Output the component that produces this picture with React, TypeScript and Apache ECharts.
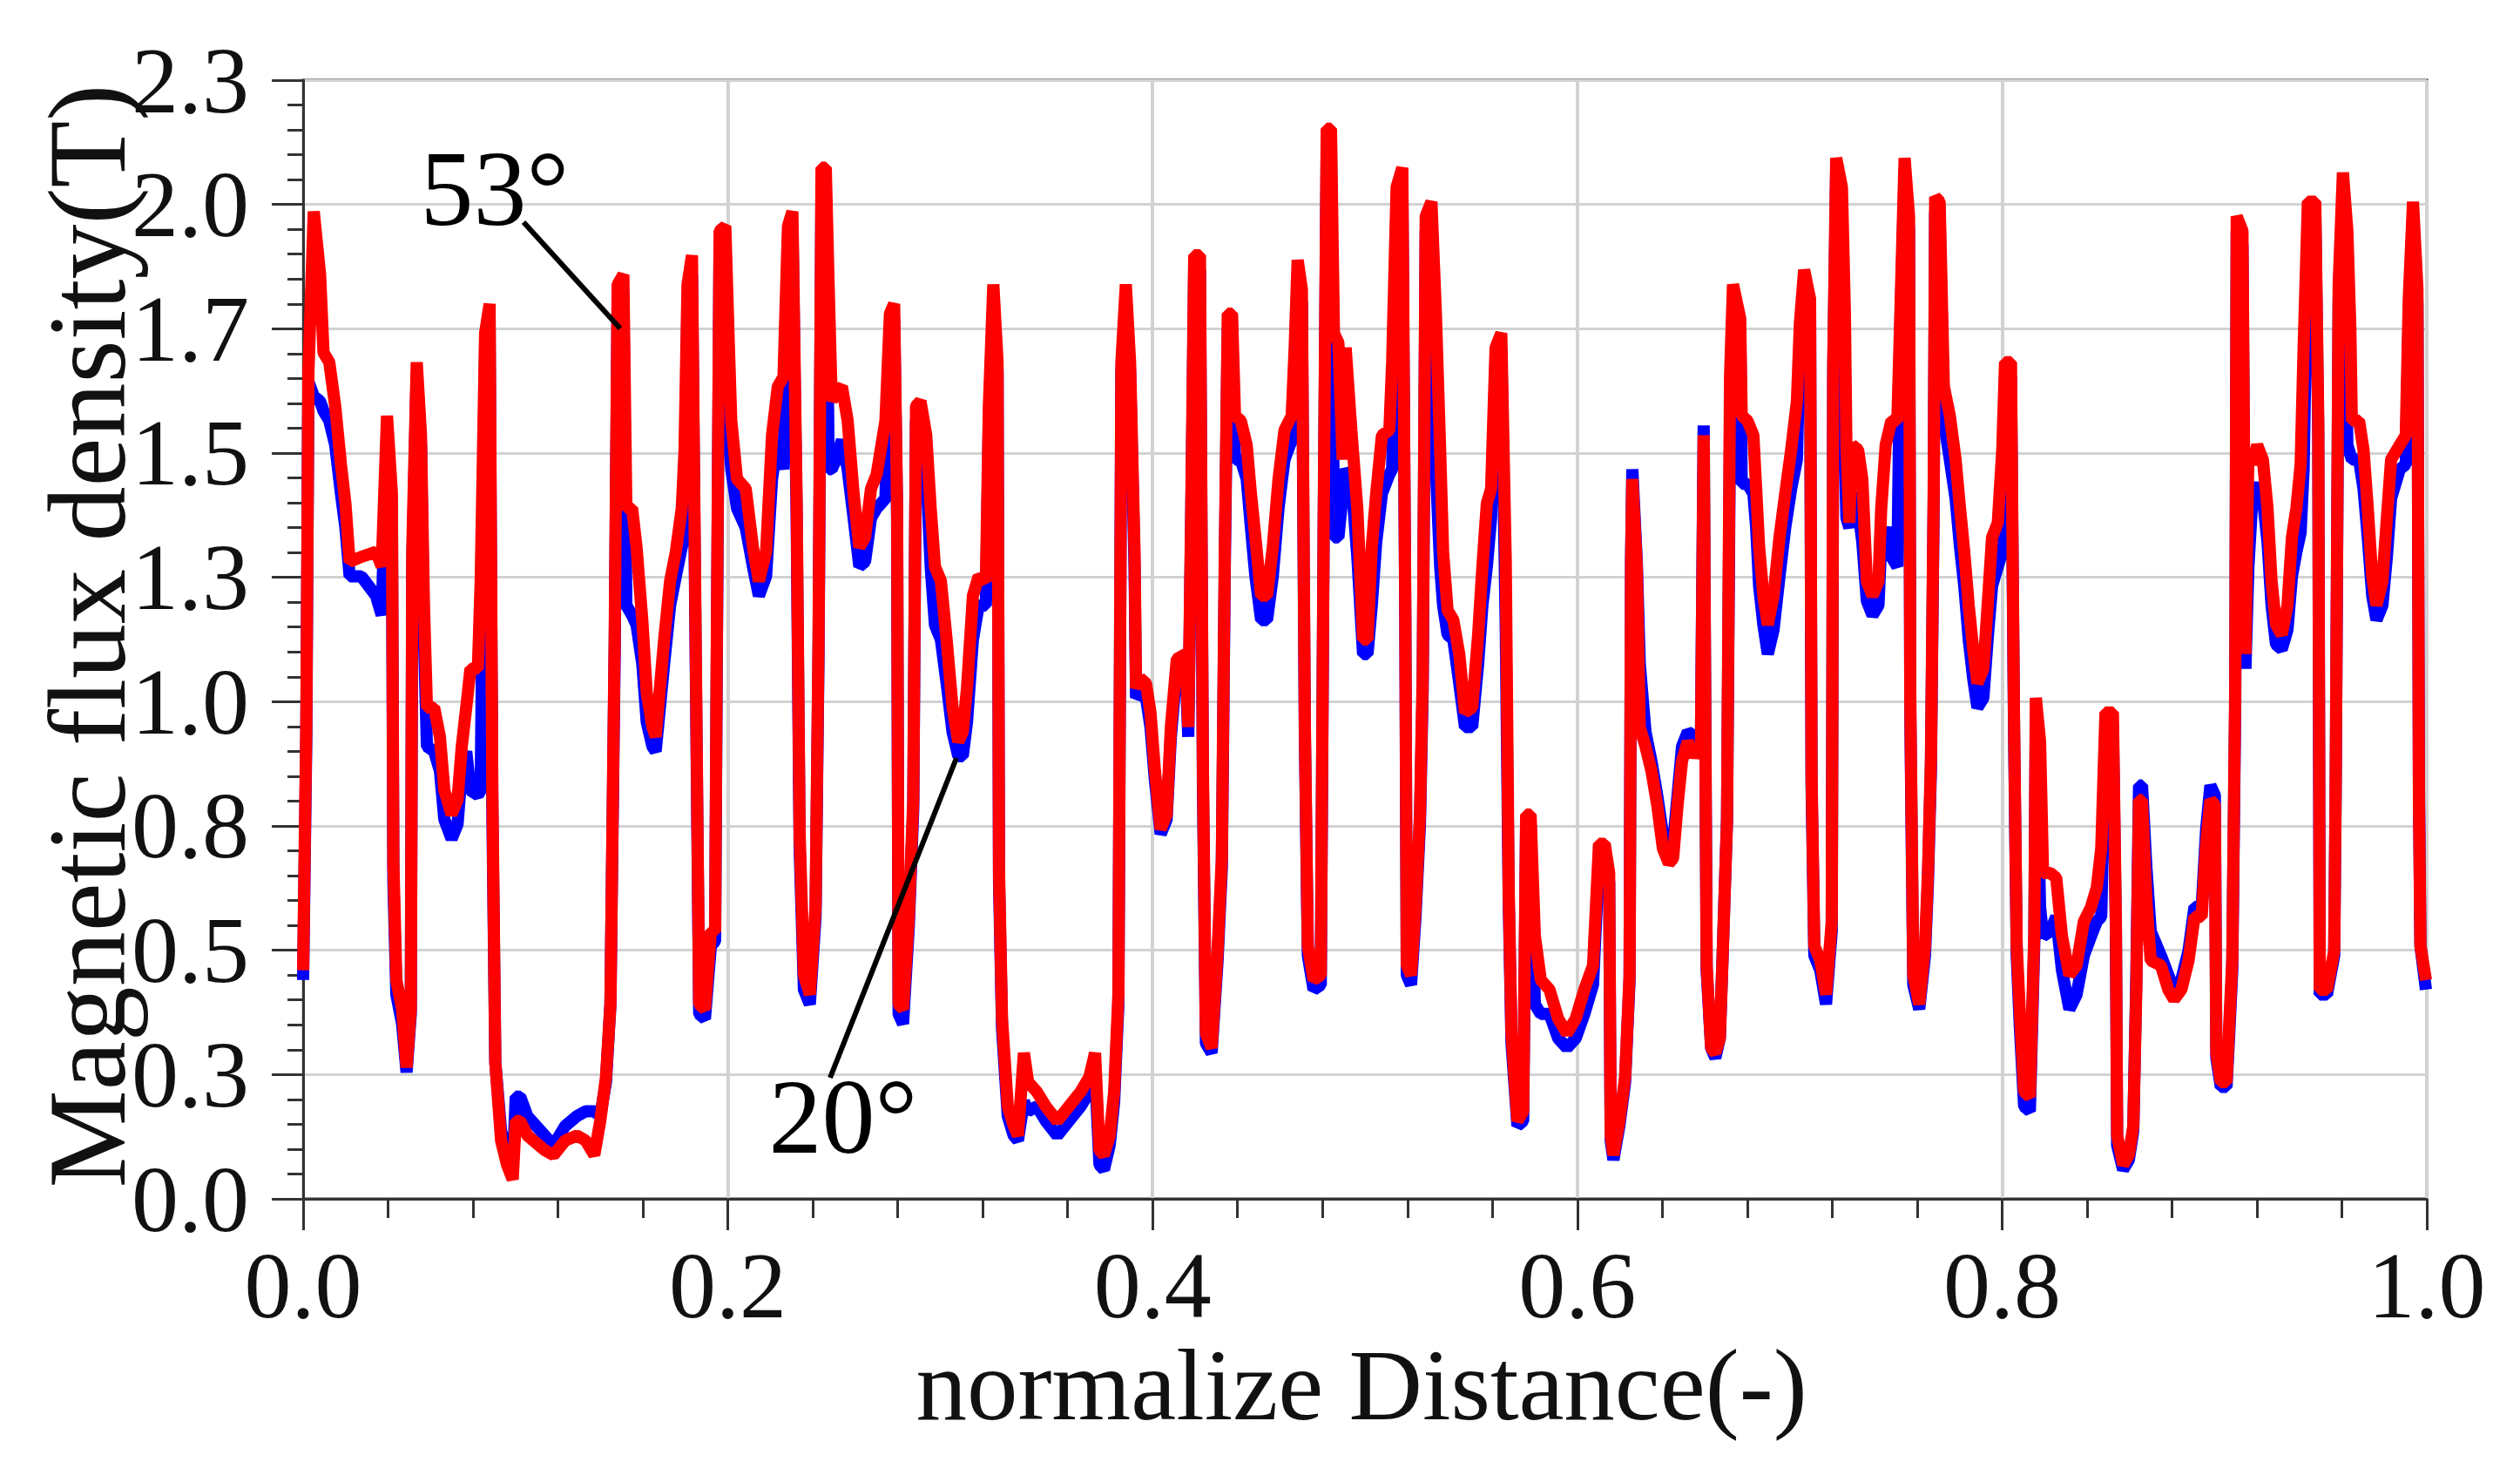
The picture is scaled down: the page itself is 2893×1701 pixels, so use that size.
import React, { useEffect, useRef } from 'react';
import * as echarts from 'echarts';

// normalized distance (shared x values of both traces)
const DISTANCE = [
  0.0000,0.0015,0.0025,0.0050,0.0080,0.0096,0.0123,0.0151,0.0178,0.0199,
  0.0219,0.0274,0.0343,0.0370,0.0395,0.0418,0.0425,0.0439,0.0466,0.0487,
  0.0507,0.0514,0.0535,0.0555,0.0569,0.0583,0.0617,0.0644,0.0665,0.0699,
  0.0727,0.0747,0.0768,0.0788,0.0823,0.0836,0.0857,0.0878,0.0891,0.0905,
  0.0932,0.0960,0.0987,0.1001,0.1022,0.1056,0.1138,0.1179,0.1234,0.1289,
  0.1330,0.1371,0.1399,0.1426,0.1447,0.1467,0.1481,0.1508,0.1522,0.1549,
  0.1570,0.1597,0.1618,0.1645,0.1660,0.1700,0.1728,0.1755,0.1783,0.1796,
  0.1810,0.1831,0.1851,0.1865,0.1892,0.1920,0.1940,0.1947,0.1961,0.1988,
  0.2005,0.2016,0.2043,0.2084,0.2118,0.2146,0.2180,0.2208,0.2235,0.2262,
  0.2283,0.2304,0.2324,0.2338,0.2358,0.2386,0.2413,0.2427,0.2441,0.2461,
  0.2475,0.2489,0.2509,0.2537,0.2564,0.2592,0.2619,0.2646,0.2674,0.2701,
  0.2742,0.2763,0.2783,0.2797,0.2804,0.2825,0.2852,0.2873,0.2886,0.2907,
  0.2934,0.2955,0.2975,0.3003,0.3030,0.3058,0.3085,0.3106,0.3126,0.3154,
  0.3181,0.3215,0.3229,0.3250,0.3270,0.3277,0.3291,0.3318,0.3346,0.3366,
  0.3394,0.3414,0.3455,0.3497,0.3551,0.3606,0.3661,0.3702,0.3729,0.3750,
  0.3771,0.3798,0.3819,0.3839,0.3853,0.3874,0.3894,0.3915,0.3922,0.3942,
  0.3969,0.3990,0.4011,0.4038,0.4066,0.4086,0.4114,0.4155,0.4168,0.4182,
  0.4196,0.4223,0.4237,0.4251,0.4278,0.4306,0.4326,0.4340,0.4354,0.4374,
  0.4388,0.4415,0.4443,0.4463,0.4484,0.4511,0.4539,0.4566,0.4593,0.4621,
  0.4655,0.4669,0.4683,0.4703,0.4717,0.4731,0.4758,0.4792,0.4806,0.4820,
  0.4840,0.4854,0.4875,0.4895,0.4909,0.4936,0.4964,0.4991,0.5012,0.5032,
  0.5053,0.5080,0.5115,0.5128,0.5149,0.5176,0.5190,0.5197,0.5217,0.5238,
  0.5259,0.5272,0.5286,0.5313,0.5334,0.5354,0.5368,0.5389,0.5416,0.5444,
  0.5471,0.5505,0.5533,0.5553,0.5574,0.5594,0.5615,0.5642,0.5663,0.5677,
  0.5690,0.5718,0.5745,0.5759,0.5780,0.5800,0.5828,0.5869,0.5910,0.5951,
  0.5992,0.6033,0.6074,0.6102,0.6129,0.6150,0.6157,0.6170,0.6198,0.6225,
  0.6246,0.6253,0.6259,0.6280,0.6294,0.6321,0.6349,0.6376,0.6403,0.6431,
  0.6451,0.6472,0.6493,0.6520,0.6554,0.6582,0.6595,0.6609,0.6630,0.6650,
  0.6671,0.6685,0.6705,0.6719,0.6733,0.6767,0.6774,0.6801,0.6829,0.6842,
  0.6856,0.6876,0.6897,0.6924,0.6952,0.6979,0.7007,0.7034,0.7048,0.7068,
  0.7096,0.7103,0.7116,0.7144,0.7171,0.7198,0.7205,0.7219,0.7246,0.7260,
  0.7267,0.7281,0.7294,0.7322,0.7342,0.7363,0.7390,0.7418,0.7431,0.7452,
  0.7479,0.7507,0.7521,0.7541,0.7562,0.7568,0.7582,0.7610,0.7637,0.7651,
  0.7665,0.7678,0.7685,0.7706,0.7726,0.7754,0.7781,0.7802,0.7822,0.7843,
  0.7864,0.7884,0.7912,0.7932,0.7953,0.7980,0.8001,0.8014,0.8042,0.8056,
  0.8069,0.8083,0.8104,0.8131,0.8152,0.8159,0.8179,0.8193,0.8227,0.8255,
  0.8282,0.8317,0.8351,0.8385,0.8419,0.8446,0.8467,0.8487,0.8522,0.8536,
  0.8542,0.8570,0.8597,0.8618,0.8632,0.8645,0.8659,0.8680,0.8700,0.8748,
  0.8783,0.8810,0.8844,0.8878,0.8906,0.8940,0.8961,0.8981,0.9002,0.9009,
  0.9030,0.9057,0.9071,0.9084,0.9098,0.9105,0.9132,0.9146,0.9160,0.9180,
  0.9201,0.9228,0.9250,0.9269,0.9290,0.9317,0.9344,0.9365,0.9386,0.9406,
  0.9420,0.9440,0.9475,0.9489,0.9496,0.9530,0.9564,0.9571,0.9585,0.9605,
  0.9626,0.9640,0.9647,0.9681,0.9702,0.9722,0.9743,0.9763,0.9791,0.9812,
  0.9832,0.9873,0.9901,0.9915,0.9935,0.9956,0.9963,0.9970,0.9996,
];

// magnetic flux density (T), 53° trace (red)
const FLUX_53 = [
  0.47,0.98,1.70,2.03,1.90,1.74,1.72,1.63,1.51,1.43,
  1.31,1.32,1.33,1.30,1.61,1.45,0.69,0.45,0.39,0.27,
  0.39,1.34,1.72,1.57,1.22,1.01,1.01,0.95,0.84,0.79,
  0.82,0.93,1.01,1.09,1.09,1.27,1.78,1.84,0.84,0.28,
  0.12,0.07,0.04,0.16,0.16,0.13,0.10,0.09,0.12,0.13,
  0.12,0.09,0.16,0.25,0.40,1.15,1.88,1.90,1.42,1.42,
  1.34,1.19,1.04,0.97,0.95,1.15,1.27,1.33,1.42,1.54,
  1.88,1.94,1.03,0.40,0.39,0.55,0.55,1.08,1.99,2.00,
  1.75,1.60,1.48,1.46,1.34,1.27,1.33,1.57,1.67,1.69,
  2.00,2.03,1.43,0.75,0.46,0.42,0.60,1.15,2.12,2.12,
  1.87,1.64,1.66,1.67,1.60,1.45,1.34,1.36,1.46,1.49,
  1.60,1.82,1.84,1.42,0.40,0.39,0.58,0.82,1.63,1.64,
  1.57,1.42,1.30,1.27,1.15,1.01,0.94,0.96,1.05,1.24,
  1.28,1.27,1.63,1.88,1.72,0.67,0.37,0.19,0.15,0.13,
  0.30,0.24,0.22,0.19,0.16,0.19,0.22,0.25,0.30,0.10,
  0.09,0.13,0.22,0.42,1.72,1.88,1.72,1.33,1.05,1.07,
  1.06,1.00,0.88,0.76,0.79,0.97,1.11,1.12,0.97,1.42,
  1.94,1.94,0.88,0.34,0.31,0.51,0.70,1.33,1.82,1.82,
  1.61,1.60,1.55,1.45,1.36,1.24,1.24,1.34,1.48,1.58,
  1.61,1.75,1.93,1.87,0.97,0.52,0.45,0.46,1.42,2.20,
  2.20,1.78,1.76,1.52,1.75,1.58,1.42,1.15,1.15,1.34,
  1.45,1.57,1.58,1.72,2.08,2.12,1.21,0.48,0.46,0.60,
  0.79,1.08,2.02,2.05,1.82,1.54,1.33,1.21,1.19,1.12,
  1.00,1.01,1.16,1.30,1.43,1.46,1.75,1.78,1.31,0.63,
  0.34,0.16,0.18,0.79,0.79,0.54,0.45,0.43,0.37,0.34,
  0.37,0.43,0.48,0.73,0.73,0.67,0.13,0.09,0.16,0.25,
  0.46,1.31,1.48,1.30,0.97,0.93,0.88,0.81,0.72,0.69,
  0.70,0.81,0.90,0.94,0.91,0.93,1.57,0.48,0.31,0.30,
  0.33,0.51,0.78,1.69,1.88,1.81,1.61,1.60,1.57,1.46,
  1.34,1.24,1.18,1.24,1.36,1.45,1.54,1.64,1.80,1.91,
  1.85,0.87,0.52,0.49,0.42,0.57,1.72,2.14,2.08,1.82,
  1.55,1.39,1.55,1.54,1.48,1.27,1.24,1.27,1.42,1.55,
  1.60,1.60,1.82,2.14,2.02,1.02,0.46,0.40,0.52,0.67,
  0.90,1.45,2.06,2.05,1.67,1.61,1.52,1.42,1.33,1.22,
  1.13,1.06,1.09,1.22,1.36,1.39,1.54,1.72,1.72,1.00,
  0.52,0.39,0.22,0.21,0.55,1.03,0.94,0.67,0.67,0.66,
  0.54,0.46,0.48,0.57,0.60,0.64,0.72,1.00,1.00,0.57,
  0.13,0.07,0.09,0.15,0.43,0.82,0.82,0.61,0.49,0.48,
  0.43,0.41,0.43,0.49,0.58,0.58,0.73,0.82,0.81,0.30,
  0.24,0.24,0.37,0.49,1.05,2.02,1.99,1.12,1.54,1.51,
  1.55,1.52,1.42,1.27,1.18,1.16,1.22,1.36,1.42,1.51,
  1.75,2.05,2.05,1.60,0.43,0.43,0.51,0.85,1.88,2.11,
  1.99,1.79,1.60,1.60,1.54,1.42,1.28,1.22,1.27,1.40,
  1.52,1.55,1.57,1.85,2.05,1.87,0.82,0.52,0.45,
];

// magnetic flux density (T), 20° trace (blue)
const FLUX_20 = [
  0.45,0.95,1.68,1.65,1.64,1.62,1.60,1.55,1.45,1.38,
  1.28,1.28,1.24,1.20,1.58,1.42,0.65,0.42,0.36,0.26,
  0.38,1.30,1.70,1.55,1.15,0.93,0.92,0.88,0.78,0.74,
  0.77,0.88,0.92,0.84,0.83,0.84,1.75,1.80,0.80,0.28,
  0.14,0.10,0.06,0.21,0.21,0.17,0.13,0.11,0.15,0.17,
  0.18,0.18,0.17,0.24,0.40,1.12,1.85,1.86,1.22,1.20,
  1.18,1.10,0.98,0.93,0.92,1.10,1.22,1.28,1.34,1.36,
  1.85,1.90,1.00,0.38,0.37,0.52,0.53,1.05,1.96,1.97,
  1.58,1.50,1.42,1.38,1.30,1.24,1.28,1.48,1.56,1.50,
  1.97,2.00,1.40,0.72,0.43,0.40,0.58,1.12,2.09,2.09,
  1.50,1.50,1.52,1.56,1.50,1.40,1.30,1.31,1.40,1.42,
  1.44,1.79,1.81,1.40,0.38,0.36,0.56,0.80,1.60,1.61,
  1.50,1.30,1.18,1.15,1.06,0.96,0.91,0.91,0.98,1.15,
  1.22,1.22,1.60,1.85,1.70,0.65,0.35,0.17,0.13,0.12,
  0.20,0.18,0.19,0.16,0.13,0.16,0.19,0.22,0.26,0.07,
  0.06,0.11,0.20,0.40,1.70,1.85,1.70,1.30,1.03,1.04,
  1.03,0.97,0.86,0.75,0.78,0.95,1.09,1.10,0.95,1.40,
  1.91,1.91,0.85,0.32,0.30,0.49,0.68,1.30,1.79,1.79,
  1.52,1.52,1.48,1.38,1.28,1.19,1.19,1.28,1.42,1.52,
  1.56,1.72,1.90,1.84,0.95,0.50,0.43,0.44,1.40,2.17,
  2.17,1.36,1.36,1.45,1.50,1.48,1.32,1.12,1.12,1.22,
  1.35,1.45,1.49,1.50,2.05,2.09,1.19,0.46,0.44,0.58,
  0.77,1.05,1.99,2.02,1.50,1.30,1.22,1.16,1.15,1.06,
  0.97,0.97,1.10,1.22,1.30,1.40,1.72,1.75,1.17,0.61,
  0.32,0.15,0.16,0.77,0.77,0.40,0.38,0.38,0.33,0.31,
  0.33,0.38,0.44,0.70,0.70,0.65,0.12,0.08,0.15,0.24,
  0.45,1.31,1.50,1.31,1.10,0.96,0.90,0.83,0.75,0.70,
  0.73,0.83,0.93,0.96,0.95,0.94,1.59,0.47,0.31,0.29,
  0.33,0.51,0.78,1.60,1.84,1.78,1.47,1.47,1.45,1.38,
  1.26,1.18,1.12,1.17,1.28,1.38,1.46,1.52,1.77,1.88,
  1.82,0.85,0.50,0.47,0.40,0.55,1.70,2.11,2.05,1.52,
  1.40,1.38,1.45,1.42,1.35,1.23,1.20,1.22,1.35,1.38,
  1.32,1.30,1.79,2.11,1.99,1.00,0.44,0.39,0.50,0.65,
  0.88,1.43,2.03,2.02,1.60,1.52,1.44,1.34,1.26,1.15,
  1.07,1.01,1.03,1.15,1.26,1.30,1.33,1.69,1.69,0.98,
  0.50,0.36,0.19,0.18,0.53,1.00,0.60,0.54,0.55,0.58,
  0.47,0.39,0.42,0.50,0.54,0.57,0.58,0.97,0.97,0.55,
  0.11,0.06,0.08,0.14,0.45,0.85,0.85,0.68,0.55,0.50,
  0.46,0.43,0.45,0.51,0.60,0.60,0.76,0.85,0.83,0.29,
  0.23,0.23,0.35,0.47,1.02,1.99,1.96,1.09,1.30,1.45,
  1.47,1.44,1.35,1.22,1.14,1.13,1.17,1.28,1.33,1.37,
  1.50,2.02,2.02,1.57,0.42,0.42,0.50,0.84,1.85,2.08,
  1.55,1.53,1.52,1.52,1.46,1.36,1.24,1.19,1.22,1.32,
  1.44,1.50,1.51,1.82,2.02,1.84,0.85,0.52,0.43,
];

const Y_LABELS = ['0.0', '0.3', '0.5', '0.8', '1.0', '1.3', '1.5', '1.7', '2.0', '2.3'];
const Y_MAX = 2.3;
const X_LABELS = ['0.0', '0.2', '0.4', '0.6', '0.8', '1.0'];
const ANNOTATIONS = ['53°', '20°'];
const X_NAME = 'normalize Distance(-)';
const Y_NAME = 'Magnetic flux density(T)';

export default function App() {
  const ref = useRef<HTMLDivElement>(null);
  useEffect(() => {
    document.body.style.margin = '0';
    const chart = echarts.init(ref.current as HTMLDivElement, null, { renderer: 'svg' });
    const font = 'Liberation Serif';
    const yStep = Y_MAX / 9;
    chart.setOption({
      animation: false,
      backgroundColor: '#ffffff',
      grid: {
        left: 348, top: 92, width: 2438, height: 1284,
        show: true, borderColor: '#333333', borderWidth: 3, backgroundColor: 'transparent',
      },
      xAxis: {
        type: 'value', min: 0, max: 1, interval: 0.2,
        axisLine: { show: true, lineStyle: { color: '#333333', width: 3 } },
        axisTick: { show: true, inside: false, length: 36, lineStyle: { color: '#333333', width: 3 } },
        minorTick: { show: true, splitNumber: 5, length: 22, lineStyle: { color: '#333333', width: 3 } },
        splitLine: { show: true, lineStyle: { color: '#d2d2d2', width: 4 } },
        axisLabel: {
          fontFamily: font, fontSize: 108, color: '#111111', margin: 45,
          formatter: (v: number) => X_LABELS[Math.round(v / 0.2)] ?? '',
        },
      },
      yAxis: {
        type: 'value', min: 0, max: Y_MAX, interval: 0.2555556,
        axisLine: { show: true, lineStyle: { color: '#333333', width: 3 } },
        axisTick: { show: true, inside: false, length: 36, lineStyle: { color: '#333333', width: 3 } },
        minorTick: { show: true, splitNumber: 5, length: 18, lineStyle: { color: '#333333', width: 3 } },
        splitLine: { show: true, lineStyle: { color: '#d2d2d2', width: 3 } },
        axisLabel: {
          fontFamily: font, fontSize: 108, color: '#111111', margin: 62,
          padding: [20, 0, 0, 0],
          formatter: (v: number) => Y_LABELS[Math.round(v / yStep)] ?? '',
        },
      },
      series: [
        {
          name: '20°', type: 'line', showSymbol: false, symbol: 'none',
          data: DISTANCE.map((d, i) => [d, FLUX_20[i]]),
          lineStyle: { color: '#0000ff', width: 14, join: 'bevel' },
          z: 2,
        },
        {
          name: '53°', type: 'line', showSymbol: false, symbol: 'none',
          data: DISTANCE.map((d, i) => [d, FLUX_53[i]]),
          lineStyle: { color: '#ff0000', width: 14, join: 'bevel' },
          z: 3,
        },
      ],
      graphic: [
        {
          type: 'text', x: 568, y: 216, z: 100,
          style: { text: ANNOTATIONS[0], fontFamily: font, fontSize: 122, fill: '#000000', align: 'center', verticalAlign: 'middle' },
        },
        {
          type: 'text', x: 968, y: 1281, z: 100,
          style: { text: ANNOTATIONS[1], fontFamily: font, fontSize: 122, fill: '#000000', align: 'center', verticalAlign: 'middle' },
        },
        {
          type: 'line', z: 100,
          shape: { x1: 601, y1: 255, x2: 712, y2: 377 },
          style: { stroke: '#000000', lineWidth: 6 },
        },
        {
          type: 'line', z: 100,
          shape: { x1: 953, y1: 1237, x2: 1098, y2: 870 },
          style: { stroke: '#000000', lineWidth: 6 },
        },
        {
          type: 'text', x: 100, y: 730, rotation: Math.PI / 2, z: 100,
          style: { text: Y_NAME, fontFamily: font, fontSize: 126, fill: '#111111', align: 'center', verticalAlign: 'middle' },
        },
        {
          type: 'text', x: 1563, y: 1589, z: 100,
          style: { text: X_NAME, fontFamily: font, fontSize: 117, fill: '#111111', align: 'center', verticalAlign: 'middle' },
        },
      ],
    });
    return () => chart.dispose();
  }, []);
  return <div ref={ref} style={{ width: 2893, height: 1701 }} />;
}
